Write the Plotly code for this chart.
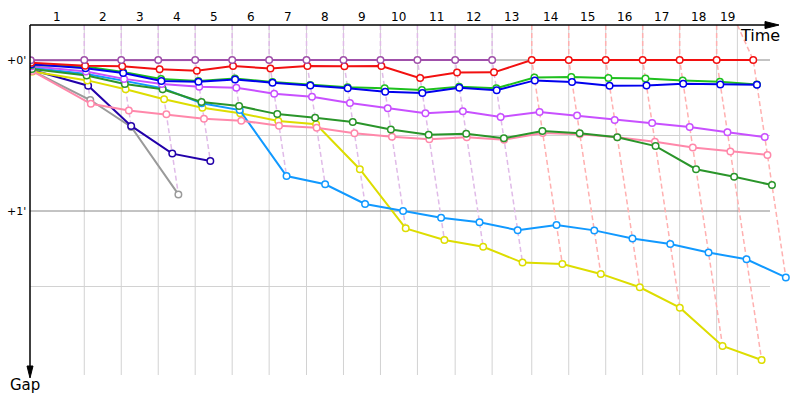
import plotly.graph_objects as go

# ---------------- data ----------------
lap_labels = [str(i) for i in range(1, 20)]
# leader cumulative time (s) at end of lap 0..19
leader_times = [0, 142, 240, 338, 436, 534, 632, 731, 829, 927, 1025, 1125,
                1223, 1328, 1426, 1524, 1622, 1720, 1818, 1915]
time_limit = 1873
# leader per lap for laps 1..19
lap_leader = ["purple"] * 12 + ["red"] * 7

# gaps to leader (s), lap 0..N
gap_gray = [4.3, 15.9, 26.6, 53.4]
gap_darkblue = [4.0, 10.2, 26.2, 37.2, 40.1]
gap_yellow = [4.6, 8.1, 11.6, 15.6, 19.0, 21.2, 24.2, 25.5, 43.4, 66.9, 71.5,
              74.2, 80.5, 81.1, 85.0, 90.3, 98.4, 113.6, 119.2]
gap_lightblue = [3.1, 5.6, 8.3, 11.2, 17.2, 19.9, 46.1, 49.4, 57.2, 60.0, 62.7,
                 64.5, 67.6, 65.6, 67.7, 70.9, 73.1, 76.5, 79.2, 86.4]
gap_pink = [4.4, 17.4, 20.1, 21.6, 23.3, 24.1, 26.1, 26.9, 29.1, 30.5, 31.5,
            30.7, 31.7, 29.0, 29.5, 30.7, 32.5, 34.8, 36.4, 37.7]
gap_darkgreen = [3.6, 6.2, 9.5, 11.6, 16.7, 18.3, 21.5, 22.9, 24.6, 27.6, 29.7,
                 29.3, 31.1, 28.2, 29.1, 30.7, 34.2, 43.4, 46.4, 49.7]
gap_magenta = [2.5, 4.6, 7.5, 9.5, 10.6, 11.0, 13.4, 14.6, 17.1, 19.2, 21.2,
               20.4, 22.6, 20.7, 22.1, 23.8, 25.0, 26.6, 28.7, 30.6]
gap_green = [2.0, 2.6, 4.8, 7.5, 8.3, 7.4, 8.7, 9.9, 10.8, 11.2, 11.9,
             10.6, 11.2, 7.0, 6.8, 7.2, 7.4, 8.1, 8.6, 9.7]
gap_blue = [1.7, 3.3, 5.2, 8.3, 8.6, 7.7, 9.0, 10.1, 11.2, 12.6, 13.1,
            11.0, 12.0, 8.1, 8.7, 10.2, 10.1, 9.4, 9.7, 9.8]
gap_red = [1.1, 2.3, 2.5, 3.7, 4.3, 2.4, 3.4, 2.4, 2.5, 2.4, 7.2,
           5.0, 4.9, 0, 0, 0, 0, 0, 0, 0]
gap_purple = [0.1, 0, 0, 0, 0, 0, 0, 0, 0, 0, 0, 0, 0]

series = [
    ("gray", gap_gray, "#9a9a9a"),
    ("darkblue", gap_darkblue, "#2200aa"),
    ("yellow", gap_yellow, "#dddd00"),
    ("lightblue", gap_lightblue, "#1199ff"),
    ("pink", gap_pink, "#ff88aa"),
    ("darkgreen", gap_darkgreen, "#2a952a"),
    ("magenta", gap_magenta, "#c850ff"),
    ("green", gap_green, "#1ec01e"),
    ("blue", gap_blue, "#0000ee"),
    ("red", gap_red, "#f21010"),
    ("purple", gap_purple, "#a050aa"),
]
dash_colors = {"purple": "#e0bbe8", "red": "#ffb0b0"}

# ---------------- geometry ----------------
PX_PER_S_X = 0.3773
X0_PX = 30.7
PX_PER_S_Y = 151 / 60.0
Y0_PX = 60.0


def xdata(px):
    return (px - X0_PX) / PX_PER_S_X


def ydata(py):
    return (py - Y0_PX) / PX_PER_S_Y


x_min, x_max = xdata(30), xdata(800)
y_top, y_bot = ydata(25), ydata(375)
x_grid_end = xdata(770)

fig = go.Figure()

# lap connection dashed lines
for n in range(1, 20):
    pts = []
    for name, g, c in series:
        if len(g) > n:
            pts.append((g[n], leader_times[n] + g[n]))
    pts.sort()
    xs = [min(leader_times[n], time_limit)] + [p[1] for p in pts]
    ys = [y_top] + [p[0] for p in pts]
    fig.add_trace(go.Scatter(
        x=xs, y=ys, mode="lines", hoverinfo="skip",
        line=dict(color=dash_colors[lap_leader[n - 1]], width=1.5, dash="5px,3px")))

# driver lines
for name, g, c in series:
    xs = [leader_times[i] + g[i] for i in range(len(g))]
    fig.add_trace(go.Scatter(
        x=xs, y=g, mode="lines+markers", name=name,
        line=dict(color=c, width=2),
        marker=dict(symbol="circle", size=6.5, color="white",
                    line=dict(color=c, width=1.5))))

shapes = []
# vertical grid
for t in leader_times[1:19] + [time_limit]:
    shapes.append(dict(type="line", xref="x", yref="y", x0=t, x1=t,
                       y0=y_top, y1=y_bot, layer="below",
                       line=dict(color="#d2d2d2", width=1)))
# horizontal grid
for yv, col in [(30, "#d2d2d2"), (90, "#d2d2d2"), (0, "#888888"), (60, "#888888")]:
    shapes.append(dict(type="line", xref="x", yref="y", x0=x_min, x1=x_grid_end,
                       y0=yv, y1=yv, layer="below",
                       line=dict(color=col, width=1)))


def px2paper_x(px):
    return (px - 30) / 770.0


def px2paper_y(py):
    return (375 - py) / 350.0


# top axis with arrow
shapes.append(dict(type="line", xref="paper", yref="paper",
                   x0=px2paper_x(30), x1=px2paper_x(768),
                   y0=px2paper_y(25), y1=px2paper_y(25),
                   line=dict(color="black", width=1.5)))
shapes.append(dict(type="path", xref="paper", yref="paper",
                   path="M {a},{b} L {c},{d} L {a},{e} Z".format(
                       a=px2paper_x(765), b=px2paper_y(21.5),
                       c=px2paper_x(779), d=px2paper_y(25),
                       e=px2paper_y(28.5)),
                   fillcolor="black", line=dict(color="black", width=1)))
# left axis with arrow
shapes.append(dict(type="line", xref="paper", yref="paper",
                   x0=px2paper_x(30), x1=px2paper_x(30),
                   y0=px2paper_y(25), y1=px2paper_y(370),
                   line=dict(color="black", width=1.5)))
shapes.append(dict(type="path", xref="paper", yref="paper",
                   path="M {a},{b} L {c},{d} L {e},{b} Z".format(
                       a=px2paper_x(27), b=px2paper_y(366),
                       c=px2paper_x(30), d=px2paper_y(378),
                       e=px2paper_x(33)),
                   fillcolor="black", line=dict(color="black", width=1)))

annotations = []
FONT = "DejaVu Sans, Verdana, sans-serif"
# lap labels
bounds = [leader_times[0]] + leader_times[1:19] + [time_limit]
for i, lab in enumerate(lap_labels):
    mid = (bounds[i] + bounds[i + 1]) / 2.0
    annotations.append(dict(x=mid, y=px2paper_y(17), xref="x", yref="paper",
                            text=lab, showarrow=False,
                            xanchor="center", yanchor="middle",
                            font=dict(family=FONT, size=12, color="black")))
# y tick labels
for yv, txt in [(0, "+0'"), (60, "+1'")]:
    annotations.append(dict(x=px2paper_x(28), y=yv, xref="paper", yref="y",
                            text=txt, showarrow=False,
                            xanchor="right", yanchor="middle",
                            font=dict(family=FONT, size=11, color="black")))
annotations.append(dict(x=px2paper_x(760), y=px2paper_y(35), xref="paper", yref="paper",
                        text="Time", showarrow=False,
                        xanchor="center", yanchor="middle",
                        font=dict(family=FONT, size=16, color="black")))
annotations.append(dict(x=px2paper_x(25), y=px2paper_y(385), xref="paper", yref="paper",
                        text="Gap", showarrow=False,
                        xanchor="center", yanchor="middle",
                        font=dict(family=FONT, size=15, color="black")))

fig.update_layout(
    width=800, height=400,
    margin=dict(l=30, r=0, t=25, b=25, pad=0),
    paper_bgcolor="white", plot_bgcolor="white",
    showlegend=False,
    xaxis=dict(range=[x_min, x_max], visible=False, fixedrange=True),
    yaxis=dict(range=[y_bot, y_top], visible=False, fixedrange=True),
    shapes=shapes, annotations=annotations,
)

fig.write_html("out.html")
